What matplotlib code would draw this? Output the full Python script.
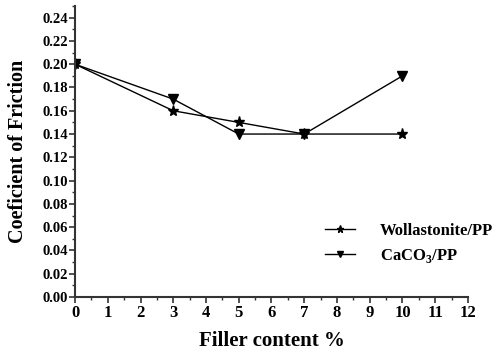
import numpy as np
import matplotlib.pyplot as plt
from matplotlib.ticker import MultipleLocator

plt.rcParams['font.family'] = ['Liberation Serif', 'DejaVu Serif']
plt.rcParams['font.weight'] = 'bold'
plt.rcParams['mathtext.fontset'] = 'custom'
plt.rcParams['mathtext.rm'] = 'Liberation Serif:bold'
plt.rcParams['mathtext.bf'] = 'Liberation Serif:bold'

# data
filler = [0, 3, 5, 7, 10]
wollastonite = [0.20, 0.16, 0.15, 0.14, 0.14]
caco3 = [0.20, 0.17, 0.14, 0.14, 0.19]

fig = plt.figure(figsize=(5.02, 3.58), dpi=100)
ax = fig.add_axes([75/502, 61/358, 393/502, 291/358])

ax.plot(filler, wollastonite, color='black', lw=1.0, marker='*', ms=8,
        label='Wollastonite/PP')
ax.plot(filler, caco3, color='black', lw=1.0, marker='v', ms=6.5,
        label=r'CaCO$_3$/PP')

ax.set_xlim(0, 12)
ax.set_ylim(0, 0.25)
ax.xaxis.set_major_locator(MultipleLocator(1))
ax.xaxis.set_minor_locator(MultipleLocator(0.5))
ax.yaxis.set_minor_locator(MultipleLocator(0.01))
ax.set_yticks(np.arange(0, 0.241, 0.02))
ax.yaxis.set_major_formatter(plt.FuncFormatter(lambda v, p: f'{v:.2f}'))

for s in ['top', 'right']:
    ax.spines[s].set_visible(False)
for s in ['left', 'bottom']:
    ax.spines[s].set_linewidth(1.5)
    ax.spines[s].set_color('#333333')

ax.tick_params(axis='both', which='major', direction='out', length=4, width=1.2, color='#333333')
ax.tick_params(axis='both', which='minor', direction='out', length=2.5, width=1.0, color='#333333')
ax.tick_params(axis='x', labelsize=12, pad=2)
ax.tick_params(axis='y', labelsize=10.5, pad=1)

ax.set_xlabel('Filler content %', fontsize=15, fontweight='bold', labelpad=7)
ax.set_ylabel('Coeficient of Friction', fontsize=14.5, fontweight='bold')
ax.yaxis.set_label_coords(-0.12, 0.5)

leg = ax.legend(loc='upper left', bbox_to_anchor=(325/502, 1 - 223/358),
                bbox_transform=fig.transFigure, frameon=False, borderpad=0,
                borderaxespad=0, fontsize=12, handlelength=1.8,
                handletextpad=1.5, labelspacing=0.5, markerscale=0.65)

fig.savefig('out.png', dpi=100, facecolor='white')
